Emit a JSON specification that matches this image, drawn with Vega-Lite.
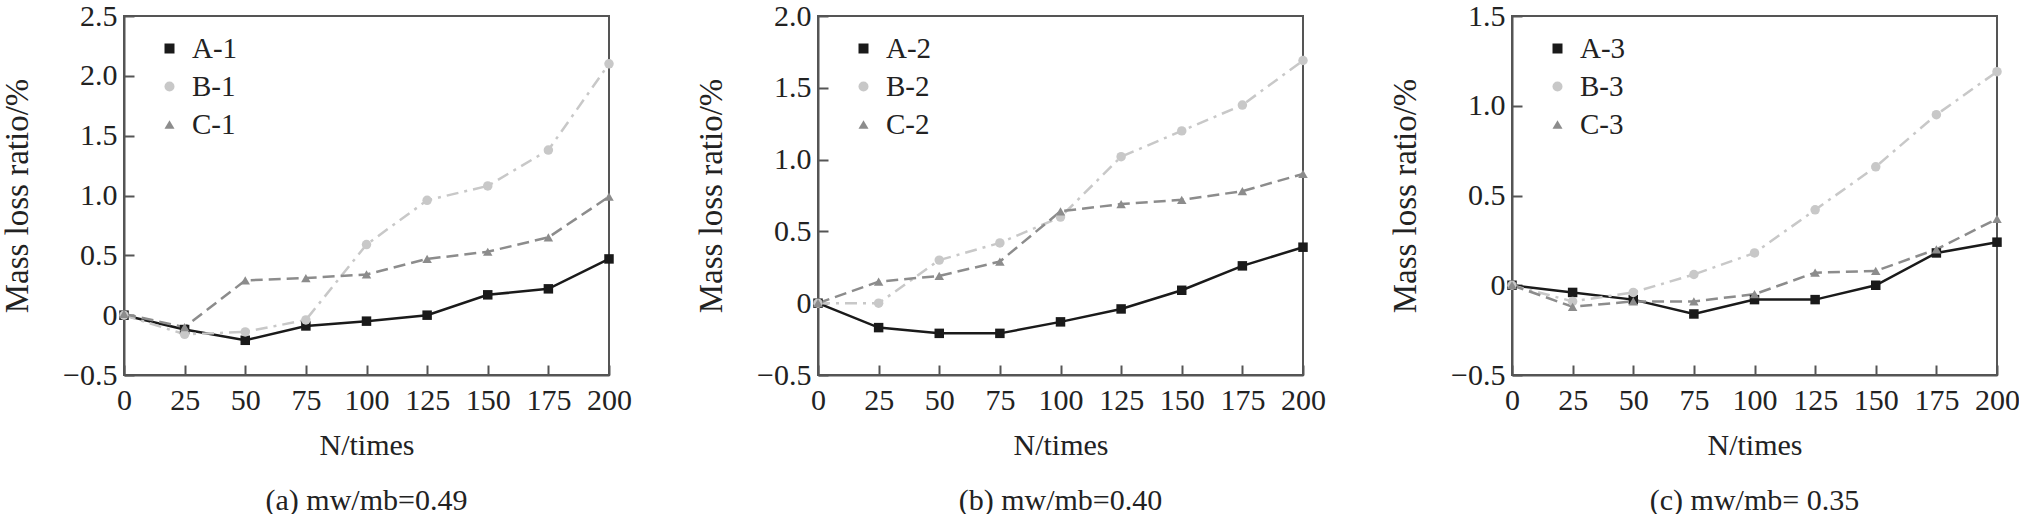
{
  "$schema": "https://vega.github.io/schema/vega-lite/v6.json",
  "padding": {"left": 0, "top": 0, "right": 0, "bottom": 0},
  "background": "white",
  "bounds": "flush",
  "spacing": 209,
  "config": {
    "font": "Liberation Serif",
    "view": {"stroke": "#555555", "strokeWidth": 2},
    "axis": {"grid": false},
    "title": {"font": "Liberation Serif", "fontSize": 30, "fontWeight": "normal", "color": "#222222"}
  },
  "data": {
    "values": [
      {"panel": "a", "series": "A-1", "N": 0, "v": 0},
      {"panel": "a", "series": "A-1", "N": 25, "v": -0.12},
      {"panel": "a", "series": "A-1", "N": 50, "v": -0.21},
      {"panel": "a", "series": "A-1", "N": 75, "v": -0.09},
      {"panel": "a", "series": "A-1", "N": 100, "v": -0.05},
      {"panel": "a", "series": "A-1", "N": 125, "v": 0.0},
      {"panel": "a", "series": "A-1", "N": 150, "v": 0.17},
      {"panel": "a", "series": "A-1", "N": 175, "v": 0.22},
      {"panel": "a", "series": "A-1", "N": 200, "v": 0.47},
      {"panel": "a", "series": "B-1", "N": 0, "v": 0},
      {"panel": "a", "series": "B-1", "N": 25, "v": -0.16},
      {"panel": "a", "series": "B-1", "N": 50, "v": -0.14},
      {"panel": "a", "series": "B-1", "N": 75, "v": -0.04},
      {"panel": "a", "series": "B-1", "N": 100, "v": 0.59},
      {"panel": "a", "series": "B-1", "N": 125, "v": 0.96},
      {"panel": "a", "series": "B-1", "N": 150, "v": 1.08},
      {"panel": "a", "series": "B-1", "N": 175, "v": 1.38},
      {"panel": "a", "series": "B-1", "N": 200, "v": 2.10},
      {"panel": "a", "series": "C-1", "N": 0, "v": 0.01},
      {"panel": "a", "series": "C-1", "N": 25, "v": -0.10},
      {"panel": "a", "series": "C-1", "N": 50, "v": 0.29},
      {"panel": "a", "series": "C-1", "N": 75, "v": 0.31},
      {"panel": "a", "series": "C-1", "N": 100, "v": 0.34},
      {"panel": "a", "series": "C-1", "N": 125, "v": 0.47},
      {"panel": "a", "series": "C-1", "N": 150, "v": 0.53},
      {"panel": "a", "series": "C-1", "N": 175, "v": 0.65},
      {"panel": "a", "series": "C-1", "N": 200, "v": 0.99},
      {"panel": "b", "series": "A-2", "N": 0, "v": 0},
      {"panel": "b", "series": "A-2", "N": 25, "v": -0.17},
      {"panel": "b", "series": "A-2", "N": 50, "v": -0.21},
      {"panel": "b", "series": "A-2", "N": 75, "v": -0.21},
      {"panel": "b", "series": "A-2", "N": 100, "v": -0.13},
      {"panel": "b", "series": "A-2", "N": 125, "v": -0.04},
      {"panel": "b", "series": "A-2", "N": 150, "v": 0.09},
      {"panel": "b", "series": "A-2", "N": 175, "v": 0.26},
      {"panel": "b", "series": "A-2", "N": 200, "v": 0.39},
      {"panel": "b", "series": "B-2", "N": 0, "v": 0},
      {"panel": "b", "series": "B-2", "N": 25, "v": 0.0},
      {"panel": "b", "series": "B-2", "N": 50, "v": 0.30},
      {"panel": "b", "series": "B-2", "N": 75, "v": 0.42},
      {"panel": "b", "series": "B-2", "N": 100, "v": 0.60},
      {"panel": "b", "series": "B-2", "N": 125, "v": 1.02},
      {"panel": "b", "series": "B-2", "N": 150, "v": 1.20},
      {"panel": "b", "series": "B-2", "N": 175, "v": 1.38},
      {"panel": "b", "series": "B-2", "N": 200, "v": 1.69},
      {"panel": "b", "series": "C-2", "N": 0, "v": 0},
      {"panel": "b", "series": "C-2", "N": 25, "v": 0.15},
      {"panel": "b", "series": "C-2", "N": 50, "v": 0.19},
      {"panel": "b", "series": "C-2", "N": 75, "v": 0.29},
      {"panel": "b", "series": "C-2", "N": 100, "v": 0.64},
      {"panel": "b", "series": "C-2", "N": 125, "v": 0.69},
      {"panel": "b", "series": "C-2", "N": 150, "v": 0.72},
      {"panel": "b", "series": "C-2", "N": 175, "v": 0.78},
      {"panel": "b", "series": "C-2", "N": 200, "v": 0.90},
      {"panel": "c", "series": "A-3", "N": 0, "v": 0},
      {"panel": "c", "series": "A-3", "N": 25, "v": -0.04},
      {"panel": "c", "series": "A-3", "N": 50, "v": -0.08},
      {"panel": "c", "series": "A-3", "N": 75, "v": -0.16},
      {"panel": "c", "series": "A-3", "N": 100, "v": -0.08},
      {"panel": "c", "series": "A-3", "N": 125, "v": -0.08},
      {"panel": "c", "series": "A-3", "N": 150, "v": 0.0},
      {"panel": "c", "series": "A-3", "N": 175, "v": 0.18},
      {"panel": "c", "series": "A-3", "N": 200, "v": 0.24},
      {"panel": "c", "series": "B-3", "N": 0, "v": 0},
      {"panel": "c", "series": "B-3", "N": 25, "v": -0.09},
      {"panel": "c", "series": "B-3", "N": 50, "v": -0.04},
      {"panel": "c", "series": "B-3", "N": 75, "v": 0.06},
      {"panel": "c", "series": "B-3", "N": 100, "v": 0.18},
      {"panel": "c", "series": "B-3", "N": 125, "v": 0.42},
      {"panel": "c", "series": "B-3", "N": 150, "v": 0.66},
      {"panel": "c", "series": "B-3", "N": 175, "v": 0.95},
      {"panel": "c", "series": "B-3", "N": 200, "v": 1.19},
      {"panel": "c", "series": "C-3", "N": 0, "v": 0},
      {"panel": "c", "series": "C-3", "N": 25, "v": -0.12},
      {"panel": "c", "series": "C-3", "N": 50, "v": -0.09},
      {"panel": "c", "series": "C-3", "N": 75, "v": -0.09},
      {"panel": "c", "series": "C-3", "N": 100, "v": -0.05},
      {"panel": "c", "series": "C-3", "N": 125, "v": 0.07},
      {"panel": "c", "series": "C-3", "N": 150, "v": 0.08},
      {"panel": "c", "series": "C-3", "N": 175, "v": 0.20},
      {"panel": "c", "series": "C-3", "N": 200, "v": 0.37}
    ]
  },
  "resolve": {
    "scale": {"y": "independent", "color": "independent", "shape": "independent"},
    "legend": {"color": "independent", "shape": "independent"}
  },
  "hconcat": [
    {
      "width": 485,
      "height": 359,
      "title": {"text": "(a) mw/mb=0.49", "orient": "bottom", "frame": "group", "offset": 26},
      "transform": [{"filter": "datum.panel == 'a'"}],
      "encoding": {
        "x": {"field": "N", "type": "quantitative", "scale": {"domain": [0, 200], "nice": false}, "axis": {"values": [0, 25, 50, 75, 100, 125, 150, 175, 200], "title": "N/times", "grid": false, "domainColor": "#555555", "domainWidth": 2, "tickColor": "#555555", "tickWidth": 2, "tickSize": -10, "labelFont": "Liberation Serif", "labelFontSize": 30, "labelColor": "#222222", "labelFlush": false, "labelOverlap": false, "labelPadding": 20, "titleFont": "Liberation Serif", "titleFontSize": 30, "titleFontWeight": "normal", "titleColor": "#222222", "titlePadding": 15}},
        "y": {"field": "v", "type": "quantitative", "scale": {"domain": [-0.5, 2.5], "nice": false}, "axis": {"values": [-0.5, 0, 0.5, 1, 1.5, 2, 2.5], "title": "Mass loss ratio/%", "labelExpr": "datum.value == 0 ? '0' : format(datum.value, '.1f')", "grid": false, "domainColor": "#555555", "domainWidth": 2, "tickColor": "#555555", "tickWidth": 2, "tickSize": -10, "labelFont": "Liberation Serif", "labelFontSize": 30, "labelColor": "#222222", "labelFlush": false, "labelOverlap": false, "labelPadding": 17, "titleFont": "Liberation Serif", "titleFontSize": 33, "titleFontWeight": "normal", "titleColor": "#222222", "titlePadding": 28}}
      },
      "layer": [
        {"transform": [{"filter": "datum.series == 'A-1'"}], "mark": {"type": "line", "strokeWidth": 2.5, "color": "#1a1a1a"}, "encoding": {}},
        {"transform": [{"filter": "datum.series == 'B-1'"}], "mark": {"type": "line", "strokeWidth": 2.5, "color": "#c8c8c8", "strokeDash": [12, 6, 3, 6]}, "encoding": {}},
        {"transform": [{"filter": "datum.series == 'C-1'"}], "mark": {"type": "line", "strokeWidth": 2.5, "color": "#8c8c8c", "strokeDash": [12, 6]}, "encoding": {}},
        {
          "mark": {"type": "point", "filled": true, "size": 90, "opacity": 1},
          "encoding": {
            "shape": {"field": "series", "type": "nominal", "scale": {"domain": ["A-1", "B-1", "C-1"], "range": ["square", "circle", "triangle-up"]}, "legend": {"title": null, "orient": "none", "legendX": 31, "legendY": 18, "direction": "vertical", "padding": 0, "labelFont": "Liberation Serif", "labelFontSize": 29, "labelColor": "#222222", "labelOffset": 8, "rowPadding": 8, "symbolSize": 100, "symbolStrokeWidth": 0}},
            "color": {"field": "series", "type": "nominal", "scale": {"domain": ["A-1", "B-1", "C-1"], "range": ["#1a1a1a", "#c8c8c8", "#8c8c8c"]}, "legend": {"title": null, "orient": "none", "legendX": 31, "legendY": 18, "direction": "vertical", "padding": 0, "labelFont": "Liberation Serif", "labelFontSize": 29, "labelColor": "#222222", "labelOffset": 8, "rowPadding": 8, "symbolSize": 100, "symbolStrokeWidth": 0}}
          }
        }
      ]
    },
    {
      "width": 485,
      "height": 359,
      "title": {"text": "(b) mw/mb=0.40", "orient": "bottom", "frame": "group", "offset": 26},
      "transform": [{"filter": "datum.panel == 'b'"}],
      "encoding": {
        "x": {"field": "N", "type": "quantitative", "scale": {"domain": [0, 200], "nice": false}, "axis": {"values": [0, 25, 50, 75, 100, 125, 150, 175, 200], "title": "N/times", "grid": false, "domainColor": "#555555", "domainWidth": 2, "tickColor": "#555555", "tickWidth": 2, "tickSize": -10, "labelFont": "Liberation Serif", "labelFontSize": 30, "labelColor": "#222222", "labelFlush": false, "labelOverlap": false, "labelPadding": 20, "titleFont": "Liberation Serif", "titleFontSize": 30, "titleFontWeight": "normal", "titleColor": "#222222", "titlePadding": 15}},
        "y": {"field": "v", "type": "quantitative", "scale": {"domain": [-0.5, 2.0], "nice": false}, "axis": {"values": [-0.5, 0, 0.5, 1, 1.5, 2], "title": "Mass loss ratio/%", "labelExpr": "datum.value == 0 ? '0' : format(datum.value, '.1f')", "grid": false, "domainColor": "#555555", "domainWidth": 2, "tickColor": "#555555", "tickWidth": 2, "tickSize": -10, "labelFont": "Liberation Serif", "labelFontSize": 30, "labelColor": "#222222", "labelFlush": false, "labelOverlap": false, "labelPadding": 17, "titleFont": "Liberation Serif", "titleFontSize": 33, "titleFontWeight": "normal", "titleColor": "#222222", "titlePadding": 28}}
      },
      "layer": [
        {"transform": [{"filter": "datum.series == 'A-2'"}], "mark": {"type": "line", "strokeWidth": 2.5, "color": "#1a1a1a"}, "encoding": {}},
        {"transform": [{"filter": "datum.series == 'B-2'"}], "mark": {"type": "line", "strokeWidth": 2.5, "color": "#c8c8c8", "strokeDash": [12, 6, 3, 6]}, "encoding": {}},
        {"transform": [{"filter": "datum.series == 'C-2'"}], "mark": {"type": "line", "strokeWidth": 2.5, "color": "#8c8c8c", "strokeDash": [12, 6]}, "encoding": {}},
        {
          "mark": {"type": "point", "filled": true, "size": 90, "opacity": 1},
          "encoding": {
            "shape": {"field": "series", "type": "nominal", "scale": {"domain": ["A-2", "B-2", "C-2"], "range": ["square", "circle", "triangle-up"]}, "legend": {"title": null, "orient": "none", "legendX": 31, "legendY": 18, "direction": "vertical", "padding": 0, "labelFont": "Liberation Serif", "labelFontSize": 29, "labelColor": "#222222", "labelOffset": 8, "rowPadding": 8, "symbolSize": 100, "symbolStrokeWidth": 0}},
            "color": {"field": "series", "type": "nominal", "scale": {"domain": ["A-2", "B-2", "C-2"], "range": ["#1a1a1a", "#c8c8c8", "#8c8c8c"]}, "legend": {"title": null, "orient": "none", "legendX": 31, "legendY": 18, "direction": "vertical", "padding": 0, "labelFont": "Liberation Serif", "labelFontSize": 29, "labelColor": "#222222", "labelOffset": 8, "rowPadding": 8, "symbolSize": 100, "symbolStrokeWidth": 0}}
          }
        }
      ]
    },
    {
      "width": 485,
      "height": 359,
      "title": {"text": "(c) mw/mb= 0.35", "orient": "bottom", "frame": "group", "offset": 26},
      "transform": [{"filter": "datum.panel == 'c'"}],
      "encoding": {
        "x": {"field": "N", "type": "quantitative", "scale": {"domain": [0, 200], "nice": false}, "axis": {"values": [0, 25, 50, 75, 100, 125, 150, 175, 200], "title": "N/times", "grid": false, "domainColor": "#555555", "domainWidth": 2, "tickColor": "#555555", "tickWidth": 2, "tickSize": -10, "labelFont": "Liberation Serif", "labelFontSize": 30, "labelColor": "#222222", "labelFlush": false, "labelOverlap": false, "labelPadding": 20, "titleFont": "Liberation Serif", "titleFontSize": 30, "titleFontWeight": "normal", "titleColor": "#222222", "titlePadding": 15}},
        "y": {"field": "v", "type": "quantitative", "scale": {"domain": [-0.5, 1.5], "nice": false}, "axis": {"values": [-0.5, 0, 0.5, 1, 1.5], "title": "Mass loss ratio/%", "labelExpr": "datum.value == 0 ? '0' : format(datum.value, '.1f')", "grid": false, "domainColor": "#555555", "domainWidth": 2, "tickColor": "#555555", "tickWidth": 2, "tickSize": -10, "labelFont": "Liberation Serif", "labelFontSize": 30, "labelColor": "#222222", "labelFlush": false, "labelOverlap": false, "labelPadding": 17, "titleFont": "Liberation Serif", "titleFontSize": 33, "titleFontWeight": "normal", "titleColor": "#222222", "titlePadding": 28}}
      },
      "layer": [
        {"transform": [{"filter": "datum.series == 'A-3'"}], "mark": {"type": "line", "strokeWidth": 2.5, "color": "#1a1a1a"}, "encoding": {}},
        {"transform": [{"filter": "datum.series == 'B-3'"}], "mark": {"type": "line", "strokeWidth": 2.5, "color": "#c8c8c8", "strokeDash": [12, 6, 3, 6]}, "encoding": {}},
        {"transform": [{"filter": "datum.series == 'C-3'"}], "mark": {"type": "line", "strokeWidth": 2.5, "color": "#8c8c8c", "strokeDash": [12, 6]}, "encoding": {}},
        {
          "mark": {"type": "point", "filled": true, "size": 90, "opacity": 1},
          "encoding": {
            "shape": {"field": "series", "type": "nominal", "scale": {"domain": ["A-3", "B-3", "C-3"], "range": ["square", "circle", "triangle-up"]}, "legend": {"title": null, "orient": "none", "legendX": 31, "legendY": 18, "direction": "vertical", "padding": 0, "labelFont": "Liberation Serif", "labelFontSize": 29, "labelColor": "#222222", "labelOffset": 8, "rowPadding": 8, "symbolSize": 100, "symbolStrokeWidth": 0}},
            "color": {"field": "series", "type": "nominal", "scale": {"domain": ["A-3", "B-3", "C-3"], "range": ["#1a1a1a", "#c8c8c8", "#8c8c8c"]}, "legend": {"title": null, "orient": "none", "legendX": 31, "legendY": 18, "direction": "vertical", "padding": 0, "labelFont": "Liberation Serif", "labelFontSize": 29, "labelColor": "#222222", "labelOffset": 8, "rowPadding": 8, "symbolSize": 100, "symbolStrokeWidth": 0}}
          }
        }
      ]
    }
  ]
}
